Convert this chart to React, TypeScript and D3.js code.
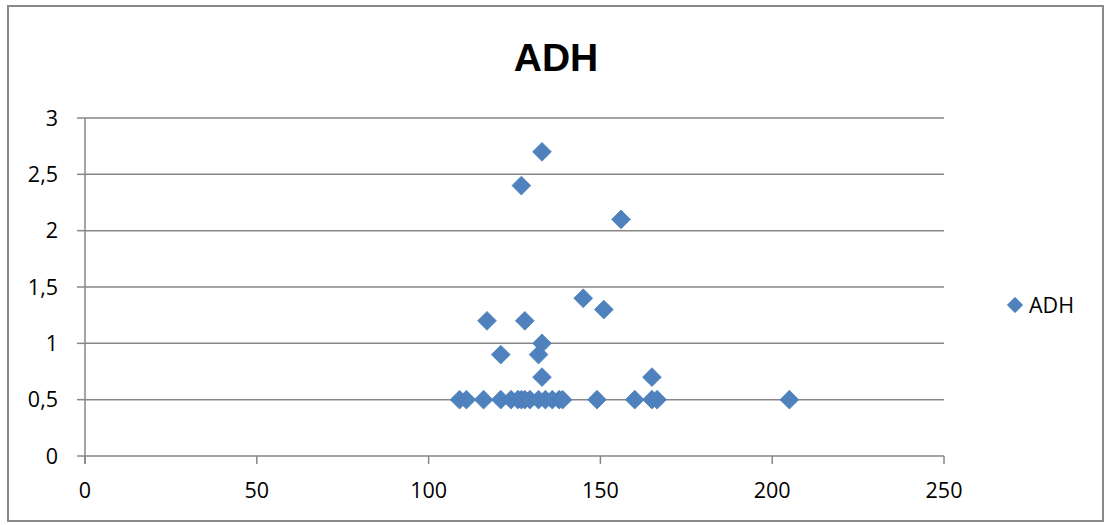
import { useEffect, useRef } from 'react'
import * as d3 from 'd3'

const seriesName = 'ADH'
const adhX = [109, 111, 116, 121, 124, 126, 127, 128, 129.5, 132, 134, 136, 138, 139, 149, 160, 165, 166.5, 205,
  117, 128, 121, 132, 133, 133, 165, 127, 133, 156, 145, 151]
const adhY = [0.5, 0.5, 0.5, 0.5, 0.5, 0.5, 0.5, 0.5, 0.5, 0.5, 0.5, 0.5, 0.5, 0.5, 0.5, 0.5, 0.5, 0.5, 0.5,
  1.2, 1.2, 0.9, 0.9, 1, 0.7, 0.7, 2.4, 2.7, 2.1, 1.4, 1.3]
const xTicks = [0, 50, 100, 150, 200, 250]
const yTicks = [0, 0.5, 1, 1.5, 2, 2.5, 3]

const W = 1105
const H = 525
const FONT = '"Open Sans", "Liberation Sans", sans-serif'

export default function App() {
  const ref = useRef<SVGSVGElement>(null)

  useEffect(() => {
    const svg = d3.select(ref.current)
    svg.selectAll('*').remove()

    svg.append('rect').attr('x', 8).attr('y', 6).attr('width', 1095).attr('height', 515)
      .attr('fill', '#fff').attr('stroke', '#898989').attr('stroke-width', 2)

    svg.append('text').attr('x', 556).attr('y', 71).attr('text-anchor', 'middle')
      .attr('font-family', '"Liberation Sans", Arial, sans-serif').attr('font-weight', 700)
      .attr('font-size', 39).attr('fill', '#000').text(seriesName)

    const x = d3.scaleLinear().domain([0, 250]).range([85, 944])
    const y = d3.scaleLinear().domain([0, 3]).range([456, 118])
    const grey = '#878787'

    // gridlines
    svg.append('g').selectAll('line').data(yTicks.filter((d) => d > 0)).enter().append('line')
      .attr('x1', x(0)).attr('x2', x(250)).attr('y1', (d) => y(d)).attr('y2', (d) => y(d))
      .attr('stroke', grey).attr('stroke-width', 1.5)

    // y axis
    svg.append('line').attr('x1', x(0)).attr('x2', x(0)).attr('y1', y(3)).attr('y2', y(0) + 8)
      .attr('stroke', grey).attr('stroke-width', 1.5)
    svg.append('g').selectAll('line').data(yTicks).enter().append('line')
      .attr('x1', x(0) - 8).attr('x2', x(0)).attr('y1', (d) => y(d)).attr('y2', (d) => y(d))
      .attr('stroke', grey).attr('stroke-width', 1.5)
    svg.append('g').selectAll('text').data(yTicks).enter().append('text')
      .attr('x', 58).attr('y', (d) => y(d)).attr('dy', '0.36em').attr('text-anchor', 'end')
      .attr('font-family', FONT).attr('font-size', 21.5).attr('fill', '#000')
      .text((d) => String(d).replace('.', ','))

    // x axis
    svg.append('line').attr('x1', x(0)).attr('x2', x(250)).attr('y1', y(0)).attr('y2', y(0))
      .attr('stroke', grey).attr('stroke-width', 1.5)
    svg.append('g').selectAll('line').data(xTicks).enter().append('line')
      .attr('x1', (d) => x(d)).attr('x2', (d) => x(d)).attr('y1', y(0)).attr('y2', y(0) + 8)
      .attr('stroke', grey).attr('stroke-width', 1.5)
    svg.append('g').selectAll('text').data(xTicks).enter().append('text')
      .attr('x', (d) => x(d)).attr('y', 490).attr('dy', '0.36em').attr('text-anchor', 'middle')
      .attr('font-family', FONT).attr('font-size', 21.5).attr('fill', '#000')
      .text((d) => String(d))

    // points
    const diamond = d3.symbol().type(d3.symbolDiamond2).size(225)
    svg.append('g').selectAll('path').data(adhX.map((v, i) => [v, adhY[i]])).enter().append('path')
      .attr('d', diamond)
      .attr('transform', (d) => `translate(${x(d[0])},${y(d[1])})`)
      .attr('fill', '#4F81BD').attr('stroke', '#4A7EBB').attr('stroke-width', 0.75)

    // legend
    svg.append('path').attr('d', d3.symbol().type(d3.symbolDiamond2).size(150)())
      .attr('transform', 'translate(1015,305)')
      .attr('fill', '#4F81BD').attr('stroke', '#4A7EBB').attr('stroke-width', 0.75)
    svg.append('text').attr('x', 1029).attr('y', 305).attr('dy', '0.36em')
      .attr('font-family', FONT).attr('font-size', 21.5).attr('fill', '#000').text(seriesName)
  }, [])

  return (
    <svg ref={ref} width={W} height={H}
      style={{ position: 'absolute', left: 0, top: 0, background: '#fff' }} />
  )
}
